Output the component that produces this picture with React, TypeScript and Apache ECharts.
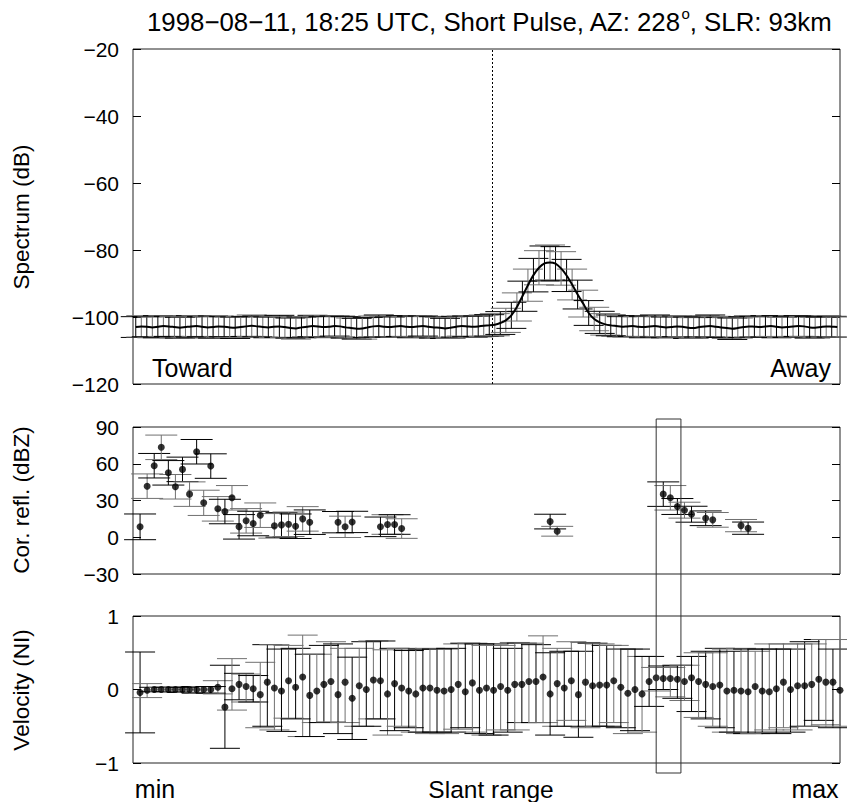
import React, { useEffect, useRef } from 'react';
import * as echarts from 'echarts';

const FONT = '"Liberation Sans", Arial, Helvetica, sans-serif';

// ---- Spectrum panel (128 Doppler bins) ----
const spectrumMean = [
  -103.0, -102.8, -102.9, -103.1, -102.9, -102.7, -102.8, -103.0, -103.2, -103.0,
  -102.8, -102.7, -102.9, -103.1, -103.0, -102.8, -102.9, -103.1, -103.2, -103.0,
  -102.8, -102.6, -102.8, -103.0, -103.1, -102.9, -102.8, -103.0, -103.3, -103.4,
  -103.1, -102.9, -102.7, -102.8, -103.0, -102.9, -102.7, -102.8, -103.1, -103.3,
  -103.5, -103.4, -103.1, -102.8, -102.7, -102.9, -103.0, -102.8, -102.7, -102.9,
  -103.0, -102.8, -102.7, -102.9, -103.1, -103.2, -103.4, -103.2, -102.9, -102.7,
  -102.8, -102.9, -102.8, -102.6,
  -102.5, -102.3, -101.8, -101.0, -99.5, -97.0, -93.8, -90.5, -87.5, -85.3,
  -84.0, -83.7, -84.1, -85.5, -87.6, -90.3, -93.3, -96.0, -98.8, -100.6,
  -101.6, -102.2, -102.5,
  -102.7, -102.9, -102.8, -102.7, -102.9, -103.0, -102.8, -102.7, -102.9, -103.1,
  -103.0, -102.8, -102.9, -103.2, -103.3, -103.0, -102.8, -102.7, -102.9, -103.1,
  -103.3, -103.5, -103.3, -103.0, -102.8, -102.9, -103.0, -102.8, -102.7, -102.9,
  -103.1, -103.0, -102.8, -102.7, -102.8, -103.1, -103.2, -103.0, -102.8, -102.9,
  -103.0,
];
const spectrumErr = [
  3.1, 3.2, 3.0, 3.1, 3.3, 3.1, 3.0, 3.2, 3.1, 3.0,
  3.2, 3.1, 3.0, 3.2, 3.3, 3.1, 3.0, 3.1, 3.2, 3.1,
  3.0, 3.2, 3.1, 3.0, 3.1, 3.2, 3.3, 3.1, 3.0, 3.2,
  3.1, 3.0, 3.2, 3.1, 3.1, 3.3, 3.0, 3.1, 3.2, 3.0,
  3.1, 3.2, 3.0, 3.1, 3.3, 3.1, 3.0, 3.2, 3.1, 3.0,
  3.2, 3.1, 3.0, 3.1, 3.2, 3.1, 3.0, 3.2, 3.1, 3.0,
  3.1, 3.2, 3.1, 3.2,
  3.2, 3.3, 3.4, 3.6, 3.9, 4.2, 4.5, 4.8, 5.0, 5.1,
  5.2, 5.2, 5.1, 5.0, 4.8, 4.6, 4.3, 4.0, 3.7, 3.5,
  3.3, 3.2, 3.1,
  3.1, 3.0, 3.2, 3.1, 3.0, 3.2, 3.1, 3.3, 3.0, 3.1,
  3.2, 3.1, 3.0, 3.2, 3.1, 3.0, 3.2, 3.3, 3.1, 3.0,
  3.1, 3.2, 3.0, 3.1, 3.2, 3.1, 3.0, 3.2, 3.1, 3.3,
  3.0, 3.1, 3.2, 3.1, 3.0, 3.2, 3.1, 3.0, 3.2, 3.1,
  3.0,
];
const zeroVelocityBin = 65;

// ---- Range gates (100) ----
const reflectivity = [
  8.5, 41.7, 58.4, 73.4, 52.6, 41.2, 55.4, 35.2, 69.8, 28.1,
  58.1, 23.2, 21.0, 32.2, 8.5, 13.4, 11.2, 18.0, null, 9.3,
  10.1, 10.6, 9.0, 15.0, 12.3, null, null, null, 12.3, 8.5,
  12.5, null, null, null, 8.5, 10.4, 10.4, 7.1, null, null,
  null, null, null, null, null, null, null, null, null, null,
  null, null, null, null, null, null, null, null, 12.8, 4.9,
  null, null, null, null, null, null, null, null, null, null,
  null, null, null, null, 35.2, 32.2, 25.1, 22.1, 18.8, null,
  15.5, 14.2, null, null, null, 9.5, 7.4, null, null, null,
  null, null, null, null, null, null, null, null, null, null,
];
const reflectivityErr = [
  10.5, 10, 10, 10, 10, 10, 10, 10, 10, 10.3,
  10, 10, 10, 10, 10, 10, 10, 10, 0, 10,
  10, 10, 10, 10, 10, 0, 0, 0, 8.7, 8.7,
  8.7, 0, 0, 0, 8, 8, 8, 8, 0, 0,
  0, 0, 0, 0, 0, 0, 0, 0, 0, 0,
  0, 0, 0, 0, 0, 0, 0, 0, 6, 4,
  0, 0, 0, 0, 0, 0, 0, 0, 0, 0,
  0, 0, 0, 0, 10, 10, 6.5, 6.5, 6.5, 0,
  6, 6, 0, 0, 0, 5, 5, 0, 0, 0,
  0, 0, 0, 0, 0, 0, 0, 0, 0, 0,
];
const velocity = [
  -0.04, -0.01, 0, 0, 0, 0, 0, 0, 0, 0,
  0, 0.03, -0.24, 0.01, 0.07, 0.04, 0.01, -0.07, 0.1, 0.02,
  -0.02, 0.12, 0.03, 0.17, -0.08, -0.02, 0.07, 0.11, -0.07, 0.1,
  -0.12, 0.05, 0, 0.13, 0.12, -0.06, 0.08, 0.02, -0.02, -0.06,
  0.02, 0.02, -0.01, -0.02, 0, 0.07, -0.03, 0.09, -0.01, 0.02,
  -0.01, 0.04, -0.01, 0.07, 0.07, 0.11, 0.11, 0.17, -0.06, 0.08,
  0.02, 0.12, -0.07, 0.1, 0.05, 0.06, 0.06, 0.12, 0.03, -0.05,
  0, -0.06, 0.11, 0.16, 0.15, 0.15, 0.14, 0.11, 0.16, 0.11,
  0.07, 0.04, 0.06, -0.02, -0.01, -0.02, -0.03, 0.04, -0.02, -0.03,
  0.01, 0.1, 0, 0.05, 0.05, 0.07, 0.14, 0.1, 0.1, -0.01,
];
const velocityHi = [
  0.51, 0.08, 0.03, 0.03, 0.03, 0.03, 0.03, 0.04, 0.04, 0.04,
  0.04, 0.12, 0.33, 0.42, 0.22, 0.21, 0.19, 0.37, 0.61, 0.61,
  0.55, 0.6, 0.56, 0.74, 0.48, 0.48, 0.6, 0.65, 0.62, 0.56,
  0.44, 0.56, 0.65, 0.66, 0.66, 0.54, 0.56, 0.56, 0.53, 0.55,
  0.55, 0.56, 0.55, 0.55, 0.56, 0.62, 0.63, 0.63, 0.62, 0.6,
  0.62, 0.6, 0.56, 0.64, 0.63, 0.63, 0.61, 0.73, 0.5, 0.56,
  0.52, 0.65, 0.52, 0.64, 0.63, 0.62, 0.6, 0.6, 0.55, 0.55,
  0.55, 0.45, 0.45, 0.3, 0.32, 0.3, 0.33, 0.33, 0.45, 0.5,
  0.52, 0.5, 0.56, 0.55, 0.52, 0.56, 0.55, 0.52, 0.55, 0.62,
  0.55, 0.62, 0.55, 0.62, 0.65, 0.62, 0.68, 0.68, 0.55, 0.68,
];
const velocityLo = [
  -0.59, -0.11, -0.03, -0.03, -0.03, -0.03, -0.04, -0.04, -0.05, -0.05,
  -0.05, -0.06, -0.8, -0.28, -0.14, -0.17, -0.17, -0.52, -0.5, -0.55,
  -0.57, -0.39, -0.4, -0.64, -0.64, -0.45, -0.45, -0.44, -0.6, -0.45,
  -0.68, -0.5, -0.5, -0.4, -0.4, -0.62, -0.56, -0.5, -0.52, -0.58,
  -0.58, -0.6, -0.58, -0.6, -0.58, -0.54, -0.52, -0.58, -0.6, -0.62,
  -0.62, -0.55, -0.58, -0.55, -0.45, -0.45, -0.45, -0.45, -0.62, -0.5,
  -0.5, -0.42, -0.65, -0.52, -0.5, -0.5, -0.5, -0.45, -0.52, -0.6,
  -0.56, -0.58, -0.23, -0.02, 0.0, -0.1, -0.12, -0.15, -0.3, -0.38,
  -0.4, -0.5, -0.52, -0.58, -0.58, -0.6, -0.6, -0.6, -0.58, -0.55,
  -0.6, -0.52, -0.58, -0.55, -0.5, -0.5, -0.42, -0.48, -0.52, -0.5,
];
const highlightGates = [74, 77.5];

const spectrumTicks = { min: -120, max: -20, interval: 20 };
const reflTicks = { min: -30, max: 90, interval: 30 };
const velTicks = { min: -1, max: 1, interval: 1 };

const minus = (v: number) => String(v).replace('-', '\u2212');

function errorBars(data: number[][], xAxisIndex: number, yAxisIndex: number, cap: number) {
  return {
    type: 'custom',
    xAxisIndex,
    yAxisIndex,
    silent: true,
    clip: false,
    data,
    encode: { x: 0, y: [1, 2] },
    z: 2,
    renderItem: (_p: any, api: any) => {
      const x = api.value(0);
      const lo = api.value(1);
      const hi = api.value(2);
      const k = api.value(3);
      const a = api.coord([x, hi]);
      const b = api.coord([x, lo]);
      const h = cap / 2;
      const style = { stroke: k % 2 ? '#707070' : '#000000', lineWidth: 1, fill: null };
      return {
        type: 'group',
        children: [
          { type: 'line', shape: { x1: a[0], y1: a[1], x2: b[0], y2: b[1] }, style },
          { type: 'line', shape: { x1: a[0] - h, y1: a[1], x2: a[0] + h, y2: a[1] }, style },
          { type: 'line', shape: { x1: b[0] - h, y1: b[1], x2: b[0] + h, y2: b[1] }, style },
        ],
      };
    },
  };
}

function yAxes(gridIndex: number, t: { min: number; max: number; interval: number }) {
  const tick = { show: true, inside: true, length: 8, lineStyle: { color: '#000', width: 1 } };
  return [
    {
      type: 'value', gridIndex, min: t.min, max: t.max, interval: t.interval,
      axisLine: { show: false }, splitLine: { show: false }, axisTick: tick,
      axisLabel: { color: '#000', fontSize: 21, fontFamily: FONT, margin: 14, formatter: minus },
    },
    {
      type: 'value', gridIndex, position: 'right', min: t.min, max: t.max, interval: t.interval,
      axisLine: { show: false }, splitLine: { show: false }, axisTick: tick,
      axisLabel: { show: false },
    },
  ];
}

export default function App() {
  const ref = useRef<HTMLDivElement>(null);
  useEffect(() => {
    if (!ref.current) return;
    const chart = echarts.init(ref.current, undefined, { renderer: 'svg' });

    const specLine = spectrumMean.map((v, i) => [i + 0.5, v]);
    const specErr = spectrumMean.map((v, i) => [i + 0.5, v - spectrumErr[i], v + spectrumErr[i], i]);
    const reflPts: number[][] = [];
    const reflErr: number[][] = [];
    reflectivity.forEach((v, i) => {
      if (v === null) return;
      reflPts.push([i + 1, v]);
      reflErr.push([i + 1, v - reflectivityErr[i], v + reflectivityErr[i], i]);
    });
    const velPts = velocity.map((v, i) => [i + 1, v]);
    const velErr = velocity.map((_v, i) => [i + 1, velocityLo[i], velocityHi[i], i]);

    const gridBase = { left: 133, width: 707, show: true, borderColor: '#222', borderWidth: 1, backgroundColor: 'transparent' };

    chart.setOption({
      animation: false,
      title: {
        text: '1998\u221208\u221211, 18:25 UTC, Short Pulse, AZ: 228{sup|o}, SLR: 93km',
        left: 147,
        top: 6,
        padding: 0,
        textStyle: {
          fontSize: 25.8, fontWeight: 'normal', color: '#000', fontFamily: FONT, lineHeight: 32,
          rich: { sup: { fontSize: 15, fontFamily: FONT, color: '#000', lineHeight: 32, verticalAlign: 'top' } },
        },
      },
      grid: [
        { ...gridBase, top: 49, height: 335 },
        { ...gridBase, top: 427, height: 147 },
        { ...gridBase, top: 616, height: 147 },
      ],
      xAxis: [
        { type: 'value', gridIndex: 0, min: 0, max: spectrumMean.length, show: false },
        { type: 'value', gridIndex: 1, min: 0, max: reflectivity.length, show: false },
        { type: 'value', gridIndex: 2, min: 0, max: velocity.length, show: false },
      ],
      yAxis: [...yAxes(0, spectrumTicks), ...yAxes(1, reflTicks), ...yAxes(2, velTicks)],
      series: [
        errorBars(specErr, 0, 0, 30),
        {
          type: 'line', xAxisIndex: 0, yAxisIndex: 0, data: specLine, smooth: 0.3,
          showSymbol: false, symbol: 'none', silent: true, z: 3,
          lineStyle: { color: '#000', width: 2 },
          markLine: {
            silent: true, symbol: ['none', 'none'], label: { show: false },
            lineStyle: { color: '#000', width: 1, type: [2, 2] },
            data: [{ xAxis: zeroVelocityBin }],
          },
        },
        errorBars(reflErr, 1, 2, 32),
        {
          type: 'scatter', xAxisIndex: 1, yAxisIndex: 2, data: reflPts, symbolSize: 7,
          itemStyle: { color: '#000' }, silent: true, z: 4,
        },
        errorBars(velErr, 2, 4, 30),
        {
          type: 'scatter', xAxisIndex: 2, yAxisIndex: 4, data: velPts, symbolSize: 7,
          itemStyle: { color: '#000' }, silent: true, z: 4,
        },
      ],
      graphic: [
        { type: 'text', id: 'toward', left: 152, top: 355, style: { text: 'Toward', fontSize: 25, fontFamily: FONT, fill: '#000' } },
        { type: 'text', id: 'away', right: 16, top: 355, style: { text: 'Away', fontSize: 25, fontFamily: FONT, fill: '#000' } },
        { type: 'text', id: 'yn1', x: 21, y: 217, rotation: Math.PI / 2, style: { text: 'Spectrum (dB)', fontSize: 22.5, fontFamily: FONT, fill: '#000', align: 'center', verticalAlign: 'middle' } },
        { type: 'text', id: 'yn2', x: 21, y: 500, rotation: Math.PI / 2, style: { text: 'Cor. refl. (dBZ)', fontSize: 22.5, fontFamily: FONT, fill: '#000', align: 'center', verticalAlign: 'middle' } },
        { type: 'text', id: 'yn3', x: 21, y: 690, rotation: Math.PI / 2, style: { text: 'Velocity (NI)', fontSize: 22.5, fontFamily: FONT, fill: '#000', align: 'center', verticalAlign: 'middle' } },
        { type: 'text', id: 'xmin', x: 155, y: 789, style: { text: 'min', fontSize: 25, fontFamily: FONT, fill: '#000', align: 'center', verticalAlign: 'middle' } },
        { type: 'text', id: 'xname', x: 491, y: 789, style: { text: 'Slant range', fontSize: 24.5, fontFamily: FONT, fill: '#000', align: 'center', verticalAlign: 'middle' } },
        { type: 'text', id: 'xmax', x: 815, y: 789, style: { text: 'max', fontSize: 25, fontFamily: FONT, fill: '#000', align: 'center', verticalAlign: 'middle' } },
      ],
    });

    const x0 = chart.convertToPixel({ xAxisIndex: 1 }, highlightGates[0]) as unknown as number;
    const x1 = chart.convertToPixel({ xAxisIndex: 1 }, highlightGates[1]) as unknown as number;
    const top = (chart.convertToPixel({ yAxisIndex: 2 }, reflTicks.max) as unknown as number) - 8;
    const bottom = (chart.convertToPixel({ yAxisIndex: 4 }, velTicks.min) as unknown as number) + 10;
    chart.setOption({
      graphic: [
        {
          type: 'rect', id: 'box', silent: true, z: 10,
          shape: { x: x0, y: top, width: x1 - x0, height: bottom - top },
          style: { fill: 'none', stroke: '#333', lineWidth: 1 },
        },
      ],
    });

    return () => chart.dispose();
  }, []);
  return <div ref={ref} style={{ position: 'absolute', left: 0, top: 0, width: 847, height: 802 }} />;
}
